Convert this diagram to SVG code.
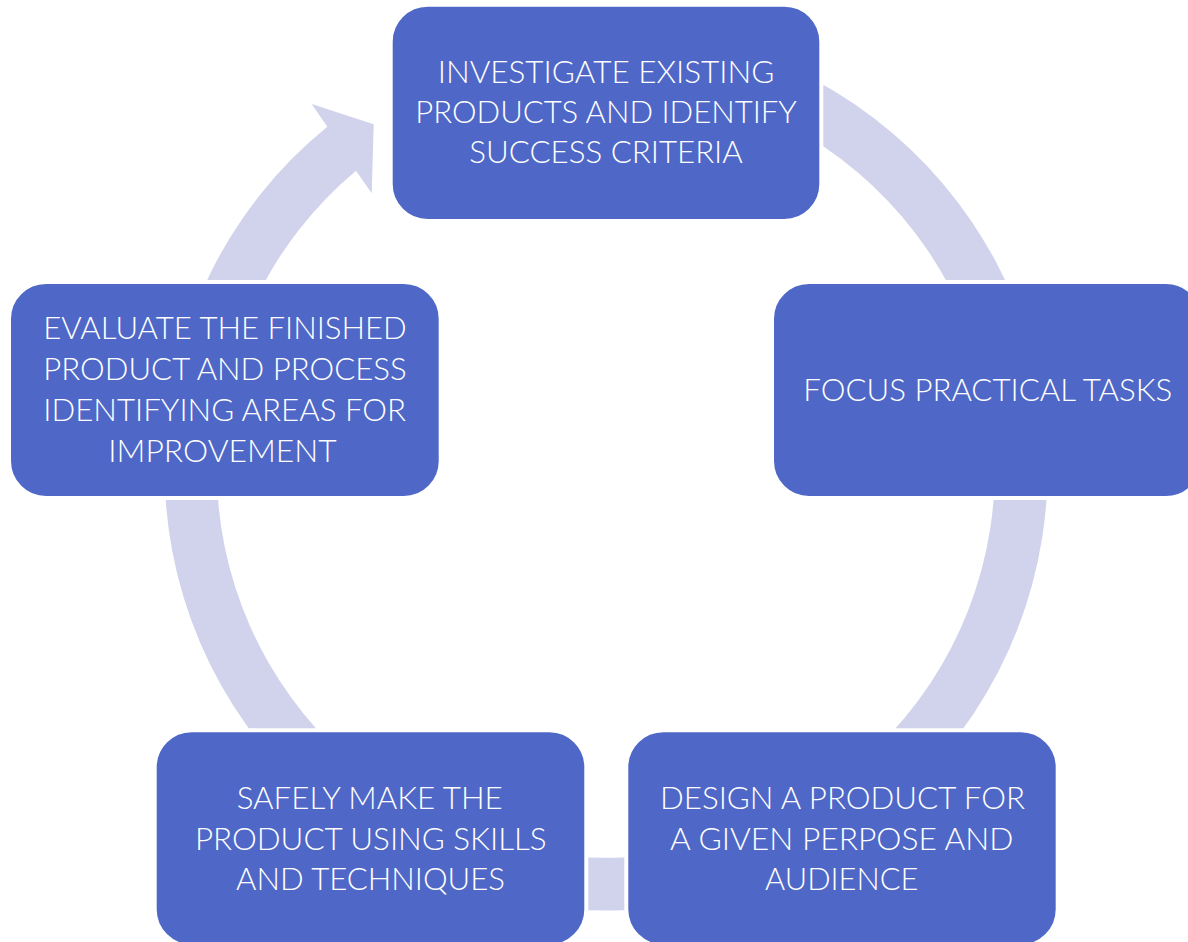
<svg xmlns="http://www.w3.org/2000/svg" width="1188" height="942" viewBox="0 0 1188 942">
  <style>
    .box { fill: #4F68C7; stroke: #FFFFFF; stroke-width: 4; }
    .ring { fill: #D1D3EC; }
    .label { fill: #FFFFFF; font-family: "Lato", "Open Sans", "Liberation Sans", sans-serif; font-weight: 300; font-size: 31px; text-anchor: middle; }
  </style>
  <rect width="1188" height="942" fill="#FFFFFF"/>

  <!-- cycle ring: one arc band around the centre (606,469), ending in an arrowhead at the top-left -->
  <g id="connectors">
    <path class="ring" d="M 792.6 68.9 A 441.5 441.5 0 1 1 327.3 126.7 L 311.7 104 L 373.7 124.3 L 371.7 193.3 L 356 170.7 A 389 389 0 1 0 770.4 116.4 Z"/>
  </g>

  <!-- boxes: rect edge sits 2px outside the visible fill; the white stroke keeps a gap to the ring -->
  <g id="node-investigate">
    <rect class="box" x="390.7" y="4.7" width="430.6" height="216.3" rx="37" ry="37"/>
    <text class="label" x="606" y="83.3" textLength="336.5" lengthAdjust="spacingAndGlyphs">INVESTIGATE EXISTING</text>
    <text class="label" x="606" y="123.3" textLength="381.5" lengthAdjust="spacingAndGlyphs">PRODUCTS AND IDENTIFY</text>
    <text class="label" x="606" y="163.3" textLength="273.5" lengthAdjust="spacingAndGlyphs">SUCCESS CRITERIA</text>
  </g>

  <g id="node-focus">
    <rect class="box" x="772" y="282" width="431" height="216" rx="37" ry="37"/>
    <text class="label" x="987.8" y="401" textLength="369" lengthAdjust="spacingAndGlyphs">FOCUS PRACTICAL TASKS</text>
  </g>

  <g id="node-design">
    <rect class="box" x="626.3" y="730.3" width="431.4" height="216" rx="37" ry="37"/>
    <text class="label" x="842.5" y="809.3" textLength="365" lengthAdjust="spacingAndGlyphs">DESIGN A PRODUCT FOR</text>
    <text class="label" x="841.7" y="850" textLength="343.3" lengthAdjust="spacingAndGlyphs">A GIVEN PERPOSE AND</text>
    <text class="label" x="841.7" y="890" textLength="153.3" lengthAdjust="spacingAndGlyphs">AUDIENCE</text>
  </g>

  <g id="node-make">
    <rect class="box" x="154.7" y="730.3" width="431.6" height="216" rx="37" ry="37"/>
    <text class="label" x="369.7" y="809.3" textLength="266" lengthAdjust="spacingAndGlyphs">SAFELY MAKE THE</text>
    <text class="label" x="370.8" y="850" textLength="351.7" lengthAdjust="spacingAndGlyphs">PRODUCT USING SKILLS</text>
    <text class="label" x="370.5" y="890" textLength="269" lengthAdjust="spacingAndGlyphs">AND TECHNIQUES</text>
  </g>

  <g id="node-evaluate">
    <rect class="box" x="9" y="282" width="431.7" height="216" rx="37" ry="37"/>
    <text class="label" x="225" y="339" textLength="363.4" lengthAdjust="spacingAndGlyphs">EVALUATE THE FINISHED</text>
    <text class="label" x="225" y="380" textLength="363.4" lengthAdjust="spacingAndGlyphs">PRODUCT AND PROCESS</text>
    <text class="label" x="224.7" y="420.7" textLength="362.7" lengthAdjust="spacingAndGlyphs">IDENTIFYING AREAS FOR</text>
    <text class="label" x="222.5" y="462" textLength="228.4" lengthAdjust="spacingAndGlyphs">IMPROVEMENT</text>
  </g>
</svg>
